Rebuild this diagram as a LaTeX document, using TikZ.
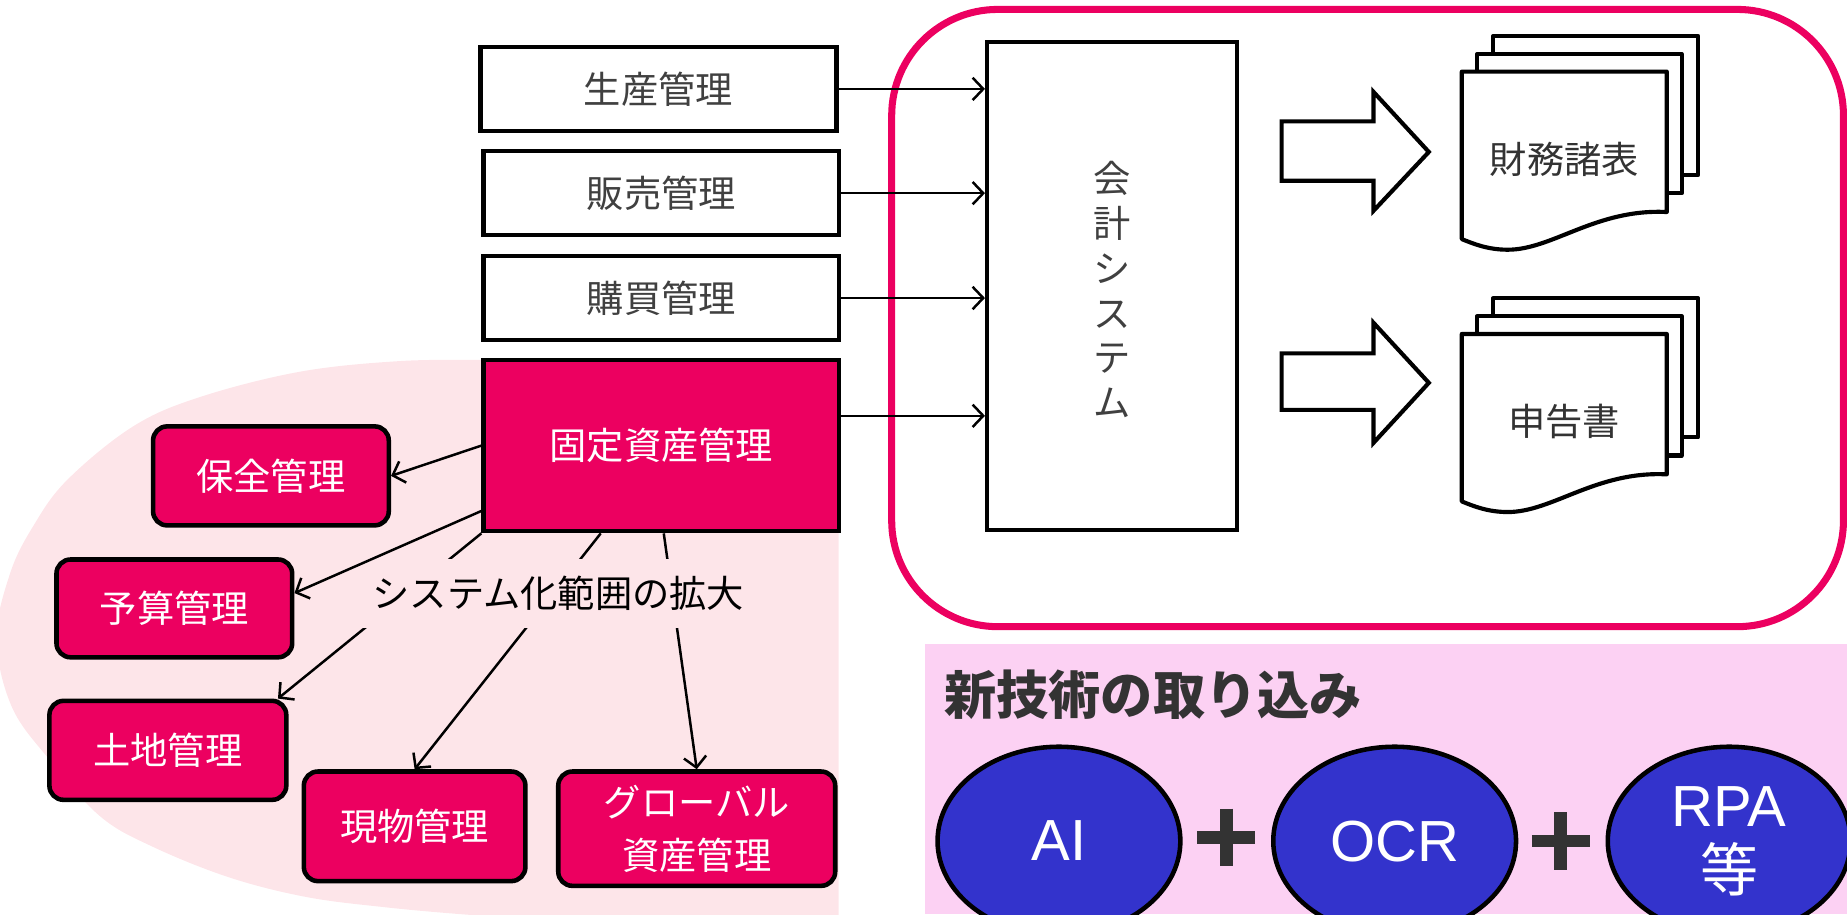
\documentclass[tikz,border=0pt]{standalone}
\usepackage{fontspec}
\setmainfont{Noto Sans CJK JP}
\newfontfamily\latinsf{Liberation Sans}
\usetikzlibrary{arrows.meta,calc,shapes.geometric}
\definecolor{mag}{RGB}{236,0,96}
\definecolor{pinkbg}{RGB}{253,229,233}
\definecolor{lav}{RGB}{252,209,243}
\definecolor{ellblue}{RGB}{51,51,204}
\definecolor{txtgray}{RGB}{64,64,64}
\definecolor{titlegray}{RGB}{51,51,51}
\tikzset{
  wbox/.style={draw=black, line width=1pt, fill=white, inner sep=0pt,
    minimum width=3.02cm, minimum height=0.71cm, text=txtgray,
    font=\fontsize{9}{11}\selectfont},
  mbox/.style={draw=black, line width=1.1pt, fill=mag, inner sep=0pt,
    rounded corners=0.12cm, text=white, align=center,
    font=\fontsize{9}{12.9}\selectfont},
  thinarr/.style={-{Straight Barb[length=0.09cm,width=0.19cm]}, line width=0.6pt, black},
  blockarr/.style={draw=black, line width=1pt, fill=white, line join=miter},
  docline/.style={draw=black, line width=1pt, fill=white, line join=round},
  techell/.style={ellipse, draw=black, line width=1.1pt, fill=ellblue, inner sep=0pt,
    minimum width=2.06cm, minimum height=1.60cm, text=white, align=center,
    font=\fontsize{14}{15.6}\selectfont},
  plusline/.style={line width=3.1pt, titlegray}
}
\begin{document}
\begin{tikzpicture}[x=0.01cm,y=-0.01cm]
\useasboundingbox (0,0) rectangle (1568,776);

% light pink area on the left
\fill[pinkbg] (712,305.6) -- (411,305.6) -- plot[smooth, tension=0.6] coordinates {(411,305.6) (340,306.5) (255,315.5) (170,337) (113,362) (57,407.5) (28,447) (8.5,487) (-3,542) (10,600) (42,645) (85,693) (130,719) (195,745) (260,761.5) (325,770) (390,776) (450,780)} -- (712,780) -- cycle;

% lavender area for new technology
\fill[lav] (785,547) rectangle (1568,776);

% magenta frame around accounting
\draw[mag, line width=1.7pt, rounded corners=0.9cm] (757,8) rectangle (1565,532);

% top boxes
\node[wbox] (sei) at (559,75.5) {生産管理};
\node[wbox] (han) at (561.5,164) {販売管理};
\node[wbox] (kou) at (561.5,253) {購買管理};
\node[wbox, fill=mag, text=white, minimum height=1.454cm] (kotei) at (561.5,378.3) {固定資産管理};

% accounting system
\node[draw=black, line width=1pt, fill=white, minimum width=2.12cm, minimum height=4.14cm, inner sep=0pt] (acct) at (944,243) {};
\node[text=txtgray, align=center, font=\fontsize{9}{10.8}\selectfont] (accttxt) at (944,246) {会\\計\\シ\\ス\\テ\\ム};

% left magenta boxes
\node[mbox, minimum width=2.0cm, minimum height=0.84cm] (hozen) at (230,404) {保全管理};
\node[mbox, minimum width=2.0cm, minimum height=0.83cm] (yosan) at (148,516.5) {予算管理};
\node[mbox, minimum width=2.01cm, minimum height=0.84cm] (tochi) at (142.5,637) {土地管理};
\node[mbox, minimum width=1.88cm, minimum height=0.93cm] (genbutsu) at (352,701.5) {現物管理};
\node[mbox, minimum width=2.35cm, minimum height=0.97cm] (global) at (591.5,703.5) {グローバル\\資産管理};

% arrows hidden partly by the label
\draw[thinarr] (kotei.south west) -- ($(tochi.north east)+(-9,0)$);
\draw[thinarr] ($(kotei.south)+(-51.5,0)$) -- (genbutsu.north);
\draw[thinarr] ($(kotei.south)+(2,0)$) -- (global.north);

\node[fill=pinkbg, inner sep=0pt, minimum width=3.4cm, minimum height=0.58cm, text=black, font=\fontsize{9}{11}\selectfont] (label) at (474,504) {システム化範囲の拡大};

\draw[thinarr] (kotei.west) -- (hozen.east);
\draw[thinarr] ($(kotei.south west)+(0,-19)$) -- ($(yosan.east)+(0,-13)$);

% arrows into accounting system
\draw[thinarr] (sei.east) -- (sei.east -| acct.west);
\draw[thinarr] (han.east) -- (han.east -| acct.west);
\draw[thinarr] (kou.east) -- (kou.east -| acct.west);
\draw[thinarr] (kotei.east |- 0,353) -- (acct.west |- 0,353);

% block arrows
\draw[blockarr] (1088,103) -- (1166,103) -- (1166,78) -- (1213,129) -- (1166,179) -- (1166,153.5) -- (1088,153.5) -- cycle;
\draw[blockarr] (1088,300) -- (1166,300) -- (1166,274) -- (1213,325) -- (1166,376) -- (1166,348) -- (1088,348) -- cycle;

% document stacks
\foreach \dy/\nm/\txt in {0/fin/財務諸表, 222.7/tax/申告書}{
  \begin{scope}[shift={(0,\dy)}]
    \draw[docline] (1267.6,30.6) rectangle (1441.6,148.6);
    \draw[docline] (1254,45.9) rectangle (1427.6,164);
    \draw[docline] (1241,60.8) -- (1415,60.8) -- (1415,180) .. controls (1355,177) and (1318,212) .. (1280,212) .. controls (1263,212) and (1251,207) .. (1241,203) -- cycle;
    \node[text=titlegray, font=\fontsize{9}{11}\selectfont] (\nm) at (1328,135) {\txt};
  \end{scope}
}

% new technology
\node[anchor=west, text=titlegray, font=\bfseries\fontsize{12.6}{14}\selectfont, inner sep=0pt] (title) at (801,590) {新技術の取り込み};
\node[techell] (ai) at (899,714) {\latinsf AI};
\node[techell] (ocr) at (1184,714) {\latinsf OCR};
\node[techell] (rpa) at (1468,714) {{\latinsf RPA}\\等};
\draw[plusline] (1016.5,711) -- (1065.5,711) (1041,686.5) -- (1041,735.5);
\draw[plusline] (1300.5,714) -- (1349.5,714) (1325,689.5) -- (1325,738.5);
\end{tikzpicture}
\end{document}
